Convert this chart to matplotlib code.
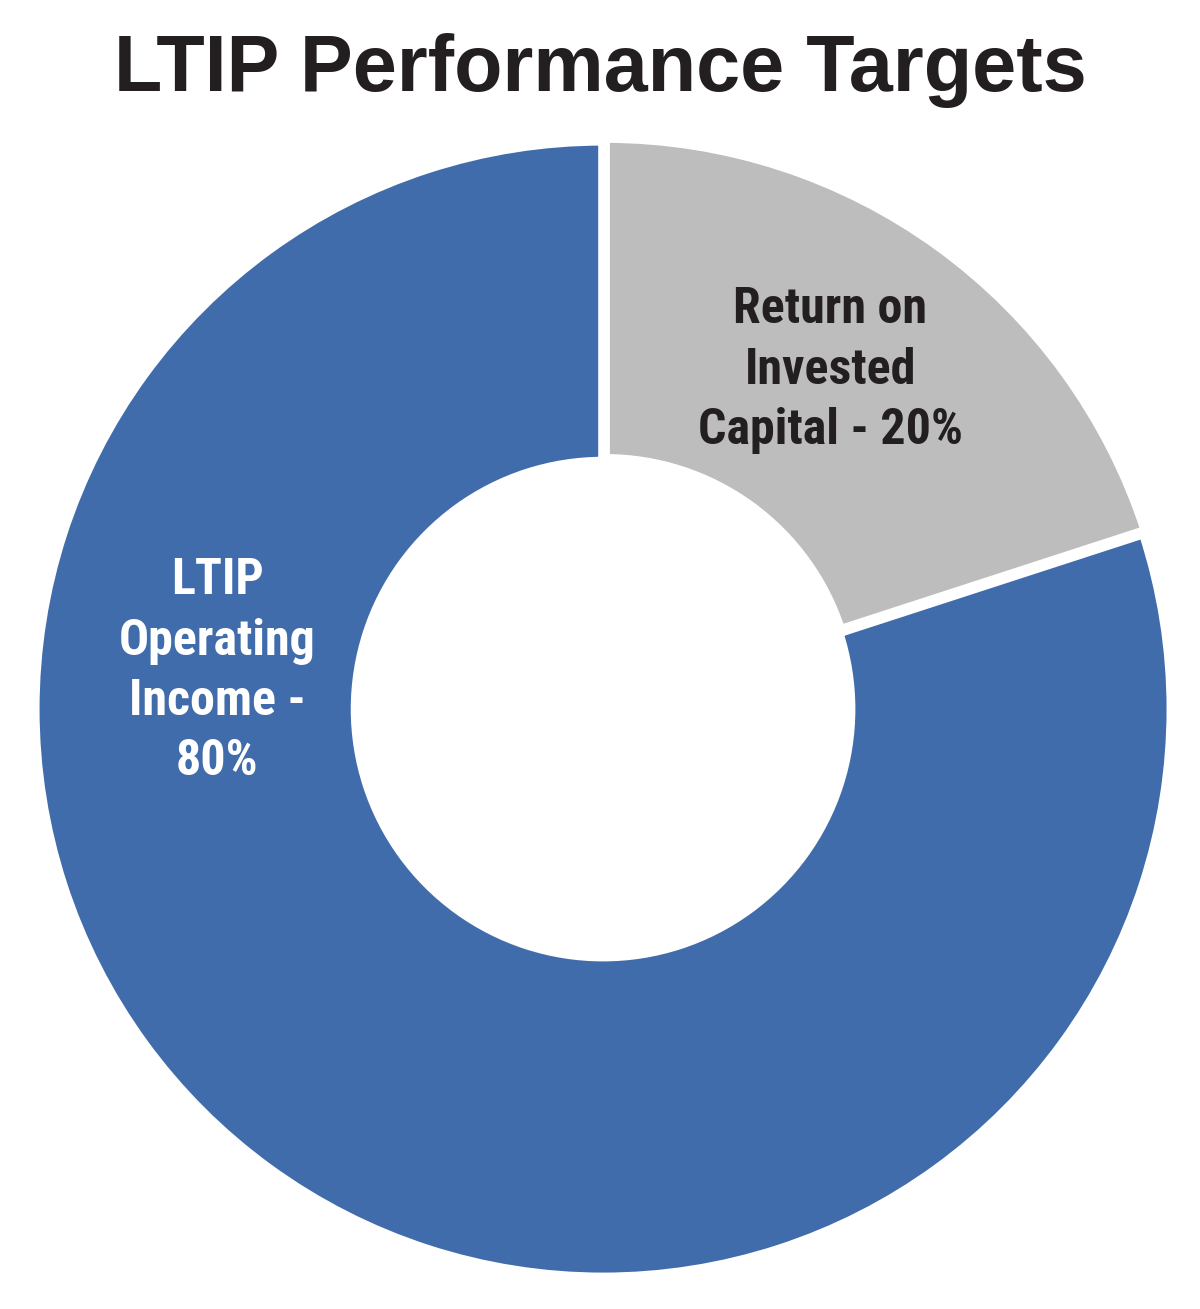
import matplotlib.pyplot as plt

labels = ['Return on\nInvested\nCapital - 20%', 'LTIP\nOperating\nIncome -\n80%']
shares = [20, 80]
colors = ['#bdbdbd', '#416cab']
text_colors = ['#231f20', 'white']
label_pos = [(0.402, 0.60), (-0.683, 0.067)]

fig = plt.figure(figsize=(12, 13.09), dpi=100)
ax = fig.add_axes([0.0317, 0.0267, 0.9417, 0.8632])

wedges, _ = ax.pie(shares, colors=colors, startangle=90, counterclock=False,
                   radius=1.006, explode=[0.006, 0],
                   wedgeprops=dict(width=0.568, edgecolor='white', linewidth=7))
ax.set_xlim(-1, 1)
ax.set_ylim(-1, 1)
ax.set_aspect('equal')
ax.axis('off')

for lab, (x, y), c in zip(labels, label_pos, text_colors):
    ax.text(x, y, lab, ha='center', va='center', color=c, fontsize=36,
            fontweight='bold', family=['Roboto Condensed', 'Roboto'],
            linespacing=1.36)

fig.text(0.5, 0.946, 'LTIP Performance Targets', ha='center', va='center',
         fontsize=57, fontweight='bold', family='Liberation Sans', color='#231f20')

fig.savefig('out.png', dpi=100)
